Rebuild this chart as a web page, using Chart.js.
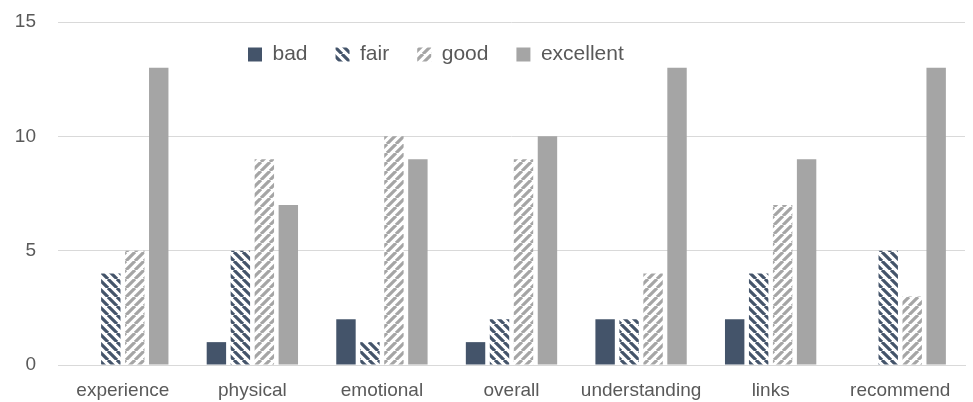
<!DOCTYPE html>
<html>
<head>
<meta charset="utf-8">
<script src="https://cdn.jsdelivr.net/npm/chart.js@4/dist/chart.umd.min.js"></script>
<style>
  html, body { margin: 0; padding: 0; background: #fff; }
  #wrap { width: 973px; height: 402px; }
</style>
</head>
<body>
<div id="wrap"><canvas id="chart"></canvas></div>
<script>
const categories = ['experience', 'physical', 'emotional', 'overall', 'understanding', 'links', 'recommend'];
const badValues = [0, 1, 2, 1, 2, 2, 0];
const fairValues = [4, 5, 1, 2, 2, 4, 5];
const goodValues = [5, 9, 10, 9, 4, 7, 3];
const excellentValues = [13, 7, 9, 10, 13, 9, 13];
const yTicks = [0, 5, 10, 15];

// diagonal stripe fill, dir '\\' or '/'
function stripes(color, dir) {
  const size = 9;
  const c = document.createElement('canvas');
  c.width = size; c.height = size;
  const g = c.getContext('2d');
  g.fillStyle = '#fff';
  g.fillRect(0, 0, size, size);
  g.strokeStyle = color;
  g.lineWidth = 3.2;
  g.beginPath();
  for (const k of [-size, 0, size]) {
    if (dir === '/') { g.moveTo(k, size); g.lineTo(k + size, 0); }
    else { g.moveTo(k, 0); g.lineTo(k + size, size); }
  }
  g.stroke();
  return g.createPattern(c, 'repeat');
}

const font = { family: '"Liberation Sans", Arial, sans-serif', size: 19 };
const legendFont = { family: '"Liberation Sans", Arial, sans-serif', size: 21 };

// legend sits inside the plot in the original: take no layout space, then move it
const legendInPlot = {
  id: 'legendInPlot',
  afterInit(chart) {
    const lg = chart.legend;
    const fit = lg.fit;
    lg.fit = function () { fit.call(this); this.height = 0; };
  },
  beforeDraw(chart) {
    const lg = chart.legend;
    const w = lg.right - lg.left;
    lg.left = 220;
    lg.right = 220 + w;
    lg.top = 16;
    lg.bottom = 16 + 70;
  },
};

new Chart(document.getElementById('chart'), {
  type: 'bar',
  data: {
    labels: categories,
    datasets: [
      { label: 'bad', data: badValues, backgroundColor: '#44546A' },
      { label: 'fair', data: fairValues, backgroundColor: stripes('#44546A', '\\') },
      { label: 'good', data: goodValues, backgroundColor: stripes('#A5A5A5', '/') },
      { label: 'excellent', data: excellentValues, backgroundColor: '#A5A5A5' },
    ],
  },
  options: {
    responsive: true, maintainAspectRatio: false, animation: false,
    layout: { padding: { top: 0, right: 8, bottom: 0, left: 0 } },
    datasets: { bar: { categoryPercentage: 0.74, barPercentage: 0.81 } },
    plugins: {
      legend: {
        position: 'top',
        align: 'start',
        labels: { color: '#595959', font: legendFont, boxWidth: 14, boxHeight: 14, padding: 28 },
      },
      tooltip: { enabled: false },
    },
    scales: {
      x: {
        grid: { display: false, drawTicks: false },
        border: { color: '#D9D9D9' },
        ticks: { color: '#595959', font, padding: 14, maxRotation: 0 },
        afterFit(axis) { axis.height = 37; },
      },
      y: {
        min: 0, max: 15,
        afterBuildTicks(axis) { axis.ticks = yTicks.map(v => ({ value: v })); },
        grid: { color: '#D9D9D9', drawTicks: false },
        border: { display: false },
        ticks: { color: '#595959', font, padding: 22 },
        afterFit(axis) { axis.width = 58; axis.paddingTop = 22; axis.paddingBottom = 0; },
      },
    },
  },
  plugins: [legendInPlot],
});
</script>
</body>
</html>
